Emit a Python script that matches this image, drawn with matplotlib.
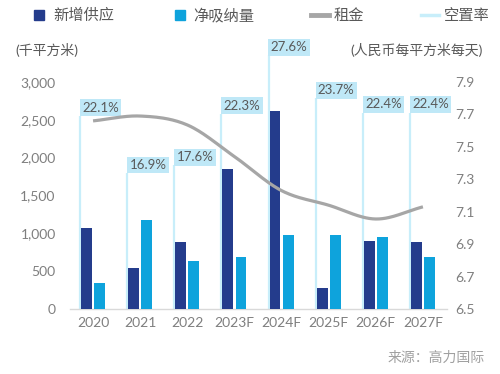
import numpy as np
import matplotlib
matplotlib.use("Agg")
import matplotlib.pyplot as plt
from matplotlib.lines import Line2D

plt.rcParams['font.family'] = ['Lato', 'Noto Sans CJK SC', 'DejaVu Sans']

categories = ['2020', '2021', '2022', '2023F', '2024F', '2025F', '2026F', '2027F']
new_supply = [1070, 540, 890, 1850, 2620, 280, 900, 880]
net_absorption = [350, 1180, 630, 690, 980, 980, 950, 690]
rent = [7.66, 7.69, 7.635, 7.44, 7.23, 7.14, 7.055, 7.13]
vacancy = [22.1, 16.9, 17.6, 22.3, 27.6, 23.7, 22.4, 22.4]

C_DARK = '#243c8c'
C_LIGHT = '#0ea3dc'
C_RENT = '#a6a6a6'
C_VAC = '#c8eefa'
C_BOX = '#bfe8f7'
C_TEXT = '#7f7f7f'
C_DTEXT = '#595959'


def catmull_rom(x, y, n=30):
    x = np.asarray(x, float)
    y = np.asarray(y, float)
    px = np.concatenate([[2 * x[0] - x[1]], x, [2 * x[-1] - x[-2]]])
    py = np.concatenate([[2 * y[0] - y[1]], y, [2 * y[-1] - y[-2]]])
    xs, ys = [], []
    t = np.linspace(0, 1, n)
    for i in range(1, len(px) - 2):
        p0x, p1x, p2x, p3x = px[i - 1:i + 3]
        p0y, p1y, p2y, p3y = py[i - 1:i + 3]
        c1x = p1x + (p2x - p0x) / 6
        c1y = p1y + (p2y - p0y) / 6
        c2x = p2x - (p3x - p1x) / 6
        c2y = p2y - (p3y - p1y) / 6
        bx = (1 - t) ** 3 * p1x + 3 * (1 - t) ** 2 * t * c1x + 3 * (1 - t) * t ** 2 * c2x + t ** 3 * p2x
        by = (1 - t) ** 3 * p1y + 3 * (1 - t) ** 2 * t * c1y + 3 * (1 - t) * t ** 2 * c2y + t ** 3 * p2y
        xs.append(bx)
        ys.append(by)
    return np.concatenate(xs), np.concatenate(ys)


fig = plt.figure(figsize=(5.0, 3.74), dpi=100)
ax = fig.add_axes([0.139, 0.1738, 0.754, 0.607])
ax2 = ax.twinx()
ax3 = ax.twinx()

x = np.arange(len(categories))
bw = 0.23
off = 0.14

# vacancy drop lines (third hidden axis)
VMIN, VMAX = 4.555, 25.19
ax3.set_ylim(VMIN, VMAX)
ax3.axis('off')
vx = x - 0.276
ax3.vlines(vx, VMIN, vacancy, colors=C_VAC, lw=1.6, zorder=1, clip_on=False)
for xi, v in zip(vx, vacancy):
    ax3.annotate(f'{v:.1f}%', xy=(xi, v), xytext=(1.6, 1.6), textcoords='offset points',
                 ha='left', va='bottom', fontsize=9.5, color=C_DTEXT,
                 bbox=dict(boxstyle='square,pad=0.18', fc=C_BOX, ec='none'),
                 annotation_clip=False, zorder=6)

ax.set_zorder(ax3.get_zorder() + 1)
ax.patch.set_visible(False)
ax.bar(x - off, new_supply, width=bw, color=C_DARK, zorder=3)
ax.bar(x + off, net_absorption, width=bw, color=C_LIGHT, zorder=3)
ax.set_ylim(0, 3000)
ax.set_xlim(-0.5, 7.5)
ax.set_yticks([0, 500, 1000, 1500, 2000, 2500, 3000])
ax.set_yticklabels(['0', '500', '1,000', '1,500', '2,000', '2,500', '3,000'])
ax.set_xticks(x)
ax.set_xticklabels(categories)

ax2.set_zorder(ax.get_zorder() + 1)
sx, sy = catmull_rom(x, rent)
ax2.plot(sx, sy, color=C_RENT, lw=2.3, solid_capstyle='butt', zorder=5)
ax2.set_ylim(6.5, 7.9)
ax2.set_yticks([6.5, 6.7, 6.9, 7.1, 7.3, 7.5, 7.7, 7.9])
ax2.set_yticklabels(['6.5', '6.7', '6.9', '7.1', '7.3', '7.5', '7.7', '7.9'])

for a in (ax, ax2):
    for s in a.spines.values():
        s.set_visible(False)
ax.spines['bottom'].set_visible(True)
ax.spines['bottom'].set_color('#d9d9d9')
ax.spines['bottom'].set_linewidth(1.0)

ax.tick_params(axis='y', length=0, pad=10, labelsize=10, labelcolor=C_TEXT)
ax.tick_params(axis='x', length=0, pad=6, labelsize=10, labelcolor=C_TEXT)
ax2.tick_params(axis='y', length=0, pad=6, labelsize=10, labelcolor=C_TEXT)

handles = [
    Line2D([], [], marker='s', color=C_DARK, linestyle='none', markersize=7),
    Line2D([], [], marker='s', color=C_LIGHT, linestyle='none', markersize=7),
    Line2D([], [], color=C_RENT, lw=3.5),
    Line2D([], [], color=C_VAC, lw=2.5),
]
labels = ['新增供应', '净吸纳量', '租金', '空置率']
leg = fig.legend(handles, labels, loc='center', bbox_to_anchor=(0.52, 0.958), ncol=4,
                 frameon=False, fontsize=11, handlelength=1.2, handletextpad=0.3,
                 columnspacing=3.7, labelcolor=C_DTEXT)

fig.text(0.03, 0.866, '(千平方米)', fontsize=10, color=C_DTEXT, ha='left', va='center')
fig.text(0.966, 0.866, '(人民币每平方米每天)', fontsize=10, color=C_DTEXT, ha='right', va='center')
fig.text(0.97, 0.045, '来源：高力国际', fontsize=10, color='#a0a0a0', ha='right', va='center')

fig.savefig('out.png', dpi=100)
